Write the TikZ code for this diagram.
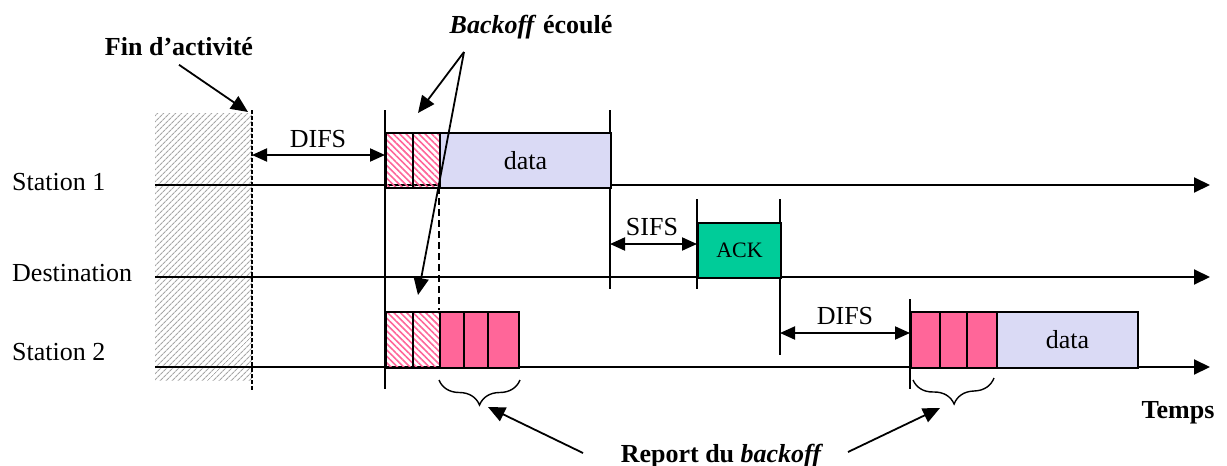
\documentclass[tikz,border=0pt]{standalone}
\usepackage{fontspec}
\setmainfont{Liberation Serif}
\usetikzlibrary{arrows.meta,patterns.meta,decorations.pathreplacing}
\definecolor{lavande}{RGB}{218,218,245}
\definecolor{rose}{RGB}{255,102,153}
\definecolor{vertack}{RGB}{0,204,153}
\tikzset{
  trait/.style={line width=2pt},
  axe/.style={trait, -{Triangle[length=16pt,width=15pt]}},
  duree/.style={trait, {Triangle[length=15pt,width=13pt]}-{Triangle[length=15pt,width=13pt]}},
  fleche/.style={line width=1.8pt, -{Triangle[length=17pt,width=15pt]}},
  boite/.style={draw, trait, inner sep=0pt, anchor=north west, minimum height=55pt},
  raye/.style={boite, pattern={Lines[angle=-45,distance=4.5pt,line width=1.6pt]}, pattern color=rose},
  bo/.style={boite, fill=rose},
  accolade/.style={line width=1.4pt, decorate, decoration={brace, mirror, amplitude=25pt}},
  titre/.style={font=\fontsize{26}{30}\selectfont\bfseries}
}
\begin{document}
\begin{tikzpicture}[x=1pt, y=-1pt, font=\fontsize{26}{30}\selectfont]
\useasboundingbox (0,0) rectangle (1227,466);
% canal occupe
\fill [pattern={Lines[angle=45,distance=4pt,line width=1.2pt]}, pattern color=gray!70] (155,113) rectangle (252,380);
\draw [trait, dash pattern=on 4pt off 2pt] (252,110) -- (252,390);

% lignes du temps
\node [anchor=west, inner sep=0pt] (st1) at (12,182) {Station 1};
\node [anchor=west, inner sep=0pt] (dest) at (12,273) {Destination};
\node [anchor=west, inner sep=0pt] (st2) at (12,352) {Station 2};
\draw [axe] (155,185) -- (1210,185);
\draw [axe] (155,277) -- (1210,277);
\draw [axe] (155,367) -- (1210,367);
\node [titre, anchor=base] (temps) at (1178,418) {Temps};

% reperes verticaux
\draw [trait] (385,110) -- (385,389);
\draw [trait] (610,110) -- (610,289);
\draw [trait] (697,199) -- (697,289);
\draw [trait] (780,199) -- (780,355);
\draw [trait] (910,299) -- (910,389);
\draw [trait, dash pattern=on 7pt off 4pt] (439,187) -- (439,310);

% station 1
\node [raye, minimum width=27pt] (h1a) at (385,132) {};
\node [raye, minimum width=27pt] (h1b) at (412,132) {};
\node [boite, fill=lavande, minimum width=171pt] (data1) at (439,132) {data};

% destination
\node [boite, fill=vertack, minimum width=83pt, font=\fontsize{22}{26}\selectfont] (ack) at (697,222) {ACK};

% station 2
\node [raye, minimum width=27pt, minimum height=56pt] (h2a) at (385,311) {};
\node [raye, minimum width=27pt, minimum height=56pt] (h2b) at (412,311) {};
\node [bo, minimum width=24pt, minimum height=56pt] (r1) at (439,311) {};
\node [bo, minimum width=24pt, minimum height=56pt] (r2) at (463,311) {};
\node [bo, minimum width=31pt, minimum height=56pt] (r3) at (487,311) {};
\node [bo, minimum width=29pt, minimum height=56pt] (r4) at (910,311) {};
\node [bo, minimum width=27pt, minimum height=56pt] (r5) at (939,311) {};
\node [bo, minimum width=30pt, minimum height=56pt] (r6) at (966,311) {};
\node [boite, fill=lavande, minimum width=141pt, minimum height=56pt] (data2) at (996,311) {data};

% durees
\coordinate (d1a) at (252,155);
\coordinate (d1b) at (385,155);
\draw [duree] (d1a) -- (d1b);
\node [anchor=base] (difs1) at (318,147) {DIFS};
\coordinate (s1a) at (610,244);
\coordinate (s1b) at (697,244);
\draw [duree] (s1a) -- (s1b);
\node [anchor=base] (sifs) at (652,235) {SIFS};
\coordinate (d2a) at (780,333);
\coordinate (d2b) at (910,333);
\draw [duree] (d2a) -- (d2b);
\node [anchor=base] (difs2) at (845,324) {DIFS};

% accolades
\draw [accolade] (r1.south west) ++(0,11) coordinate (acc1a) -- (r3.south east |- acc1a) coordinate (acc1b);
\draw [accolade] (r4.south west) ++(3,11) coordinate (acc2a) -- (994,378) coordinate (acc2b);

% annotations
\node [titre, anchor=base] (fin) at (179,55) {Fin d’activité};
\coordinate (finpt) at (248,112);
\draw [fleche] ([yshift=-6pt]fin.south) -- (finpt);

\node [titre, anchor=base] (bof) at (531,33) {\textit{Backoff} écoulé};
\coordinate (bofsrc) at (464,52);
\coordinate (bofpt1) at (418,113);
\coordinate (bofpt2) at (418,295);
\draw [fleche] (bofsrc) -- (bofpt1);
\draw [fleche] (bofsrc) -- (bofpt2);

\node [titre, anchor=base] (rep) at (722,462) {Report du \textit{backoff}};
\coordinate (repsrc1) at (583,453);
\coordinate (repsrc2) at (848,452);
\coordinate (reppt1) at (488,407);
\coordinate (reppt2) at (940,408);
\draw [fleche] (repsrc1) -- (reppt1);
\draw [fleche] (repsrc2) -- (reppt2);
\end{tikzpicture}
\end{document}
